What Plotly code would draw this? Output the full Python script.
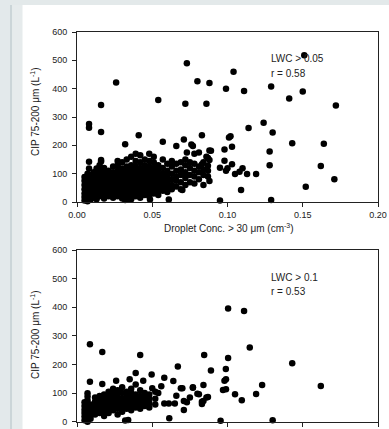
import plotly.graph_objects as go

W, H = 389, 429

# ---------------- Panel 1 (LWC > 0.05) ----------------
x1_out = [0.073, 0.151, 0.104, 0.026, 0.080, 0.088, 0.099, 0.111, 0.129, 0.150, 0.141, 0.054,
          0.016, 0.072, 0.086, 0.172, 0.008, 0.008, 0.016, 0.041, 0.083, 0.032, 0.057, 0.076,
          0.077, 0.066, 0.071, 0.101, 0.102, 0.114, 0.124, 0.130, 0.143, 0.164, 0.103, 0.098,
          0.088, 0.128, 0.128, 0.119, 0.162, 0.171, 0.152, 0.129, 0.095, 0.061, 0.109, 0.110,
          0.108, 0.113, 0.103, 0.105, 0.099, 0.100, 0.098, 0.095, 0.088, 0.087, 0.086, 0.083,
          0.088, 0.070, 0.032, 0.034, 0.0485, 0.089, 0.073]
y1_out = [490, 518, 460, 422, 426, 420, 400, 392, 408, 390, 365, 360,
          342, 347, 347, 341, 275, 262, 247, 236, 236, 204, 213, 203,
          198, 198, 221, 228, 232, 261, 280, 245, 207, 206, 195, 185,
          182, 178, 130, 99, 127, 80, 54, 7, 5, 9, 42, 119,
          107, 99, 133, 99, 110, 119, 146, 121, 148, 128, 160, 133,
          74, 42, 7, 9, 9, 181, 175]

x1_blob = ([0.005] * 7 + [0.007] * 8 + [0.008] * 2 + [0.009] * 7 + [0.011] * 7 + [0.013] * 8 +
           [0.015] * 8 + [0.016] * 2 + [0.018] * 8 + [0.021] * 7 + [0.024] * 8 + [0.027] * 9 +
           [0.030] * 9 + [0.033] * 9 + [0.036] * 10 + [0.039] * 10 + [0.042] * 10 + [0.045] * 9 +
           [0.048] * 10 + [0.051] * 9 + [0.054] * 8 + [0.057] * 7 + [0.060] * 7 + [0.063] * 6 +
           [0.066] * 5 + [0.069] * 5 + [0.072] * 5 + [0.075] * 4 + [0.078] * 5 + [0.081] * 4 +
           [0.084] * 4 + [0.087] * 3)
y1_blob = [5, 18, 30, 45, 60, 75, 88,
           3, 12, 25, 40, 55, 70, 85, 100,
           142, 118,
           8, 20, 35, 50, 65, 80, 95,
           15, 30, 45, 60, 75, 90, 105,
           10, 25, 40, 55, 70, 85, 100, 118,
           20, 35, 50, 65, 80, 95, 110, 130,
           143, 148,
           12, 28, 42, 58, 72, 88, 102, 120,
           20, 35, 50, 65, 80, 95, 110,
           15, 30, 45, 60, 75, 90, 105, 125,
           20, 35, 50, 65, 80, 95, 110, 130, 145,
           12, 28, 42, 58, 72, 88, 102, 118, 140,
           18, 35, 50, 65, 80, 95, 110, 125, 150,
           10, 25, 40, 55, 70, 85, 100, 115, 130, 160,
           20, 35, 50, 65, 80, 95, 110, 125, 145, 170,
           15, 30, 45, 60, 75, 90, 105, 120, 140, 165,
           25, 40, 55, 70, 85, 100, 115, 130, 150,
           20, 35, 50, 65, 80, 95, 110, 125, 145, 170,
           30, 45, 60, 75, 90, 105, 120, 140, 160,
           25, 40, 55, 70, 85, 100, 115, 130,
           40, 55, 70, 85, 100, 120, 150,
           35, 50, 65, 80, 95, 110, 135,
           45, 60, 80, 100, 125, 145,
           55, 75, 90, 110, 135,
           45, 70, 95, 115, 140,
           60, 85, 105, 130, 150,
           70, 95, 120, 140,
           65, 90, 110, 135, 170,
           80, 105, 125, 175,
           60, 95, 115, 140,
           90, 110, 155]

# ---------------- Panel 2 (LWC > 0.1) ----------------
x2_out = [0.1004, 0.111, 0.1148, 0.143, 0.162, 0.0845, 0.1004, 0.089, 0.0989, 0.098, 0.099,
          0.097, 0.099, 0.105, 0.1095, 0.119, 0.123, 0.130, 0.0954, 0.0613, 0.067, 0.084,
          0.080, 0.077, 0.070, 0.071, 0.087, 0.084, 0.058, 0.064, 0.0496, 0.042, 0.039,
          0.044, 0.0168, 0.0086, 0.0086, 0.0168, 0.026, 0.035, 0.032, 0.034, 0.050, 0.054,
          0.058, 0.061, 0.065, 0.071, 0.073, 0.075, 0.077, 0.081, 0.083, 0.083, 0.086,
          0.069, 0.066, 0.056]
y2_out = [396, 387, 259, 204, 125, 233, 223, 179, 184, 143, 148,
          111, 113, 96, 75, 97, 128, 5, 3, 12, 193, 128,
          98, 119, 117, 72, 86, 72, 154, 142, 165, 233, 170,
          143, 244, 271, 140, 132, 143, 148, 4, 6, 117, 100,
          64, 64, 64, 41, 68, 85, 120, 96, 70, 62, 85,
          117, 91, 124]

x2_blob = ([0.005] * 6 + [0.007] * 9 + [0.009] * 5 + [0.012] * 5 + [0.015] * 5 + [0.018] * 6 +
           [0.021] * 6 + [0.024] * 6 + [0.027] * 6 + [0.030] * 6 + [0.033] * 5 + [0.036] * 6 +
           [0.039] * 5 + [0.042] * 5 + [0.045] * 4 + [0.048] * 4 + [0.052] * 3)
y2_blob = [5, 18, 30, 42, 55, 68,
           0, 12, 25, 38, 50, 62, 75, 88, 99,
           10, 22, 35, 48, 60,
           25, 40, 55, 70, 85,
           30, 45, 60, 75, 90,
           20, 35, 50, 65, 80, 95,
           30, 45, 60, 75, 90, 105,
           40, 55, 70, 85, 100, 115,
           25, 45, 60, 75, 90, 110,
           35, 50, 65, 80, 100, 120,
           45, 60, 75, 90, 105,
           40, 55, 70, 85, 100, 115,
           50, 65, 80, 95, 130,
           45, 60, 75, 90, 110,
           55, 70, 85, 100,
           50, 65, 80, 95,
           60, 80, 105]

x_ticks = [0.0, 0.05, 0.10, 0.15, 0.20]
x_tick_labels = ["0.00", "0.05", "0.10", "0.15", "0.20"]
y_ticks = [0, 100, 200, 300, 400, 500, 600]

panel_labels = ["LWC > 0.05", "LWC > 0.1"]
r_labels = ["r = 0.58", "r = 0.53"]

x_title = "Droplet Conc. > 30 \u03bcm (cm<sup>-3</sup>)"
y_title = "CIP 75-200 \u03bcm (L<sup>-1</sup>)"

FONT = "Liberation Sans, Arial, sans-serif"

fig = go.Figure()
marker = dict(color="black", size=6.5, line=dict(width=0))
fig.add_trace(go.Scatter(x=x1_blob + x1_out, y=y1_blob + y1_out, mode="markers",
                         marker=marker, xaxis="x", yaxis="y", cliponaxis=False,
                         showlegend=False, hoverinfo="skip"))
fig.add_trace(go.Scatter(x=x2_blob + x2_out, y=y2_blob + y2_out, mode="markers",
                         marker=marker, xaxis="x2", yaxis="y2", cliponaxis=False,
                         showlegend=False, hoverinfo="skip"))

def px(v):
    return v / W

def py(v):
    return 1 - v / H

xdom = [px(77), px(378)]
ydom1 = [py(202), py(32)]
ydom2 = [py(421.7), py(250)]

axis_common = dict(showline=True, linecolor="#222", linewidth=1, mirror=True,
                   ticks="outside", ticklen=4, tickwidth=1, tickcolor="#222",
                   showgrid=False, zeroline=False, automargin=False,
                   tickfont=dict(family=FONT, size=9, color="#222"))

fig.update_layout(
    template="none",
    width=W, height=H,
    margin=dict(l=0, r=0, t=0, b=0, pad=0, autoexpand=False),
    paper_bgcolor="white", plot_bgcolor="white",
    font=dict(family=FONT, color="#222"),
    xaxis=dict(domain=xdom, range=[0, 0.2], tickvals=x_ticks, ticktext=x_tick_labels,
               anchor="y", **axis_common),
    yaxis=dict(domain=ydom1, range=[0, 600], tickvals=y_ticks, anchor="x",
               ticklabelstandoff=3, **axis_common),
    xaxis2=dict(domain=xdom, range=[0, 0.2], tickvals=x_ticks, ticktext=x_tick_labels,
                anchor="y2", ticklabelstandoff=4, **axis_common),
    yaxis2=dict(domain=ydom2, range=[0, 600], tickvals=y_ticks, anchor="x2",
                ticklabelstandoff=3, **axis_common),
)

shapes = [
    dict(type="rect", xref="paper", yref="paper", x0=0, x1=1, y0=py(5), y1=1,
         fillcolor="#e3e9ea", line=dict(width=0), layer="below"),
    dict(type="rect", xref="paper", yref="paper", x0=0, x1=px(10), y0=0, y1=1,
         fillcolor="#e3e9eb", line=dict(width=0), layer="below"),
    dict(type="rect", xref="paper", yref="paper", x0=px(10), x1=px(12.5), y0=0, y1=py(5),
         fillcolor="#cbd5d8", line=dict(width=0), layer="below"),
    dict(type="rect", xref="paper", yref="paper", x0=px(12.5), x1=px(22.5), y0=0, y1=py(5),
         fillcolor="#e6ebec", line=dict(width=0), layer="below"),
]
fig.update_layout(shapes=shapes)

ann = []
for xa, ya, lab, rl in [("x", "y", panel_labels[0], r_labels[0]),
                        ("x2", "y2", panel_labels[1], r_labels[1])]:
    ann.append(dict(x=0.1276, y=505, xref=xa, yref=ya, text=lab, showarrow=False,
                    xanchor="left", yanchor="middle", font=dict(family=FONT, size=10, color="#222")))
    ann.append(dict(x=0.1276, y=455, xref=xa, yref=ya, text=rl, showarrow=False,
                    xanchor="left", yanchor="middle", font=dict(family=FONT, size=10, color="#222")))
ann.append(dict(x=px(35), y=py(112), xref="paper", yref="paper", text=y_title, textangle=-90,
                showarrow=False, xanchor="center", yanchor="middle",
                font=dict(family=FONT, size=10, color="#222")))
ann.append(dict(x=px(35), y=py(335), xref="paper", yref="paper", text=y_title, textangle=-90,
                showarrow=False, xanchor="center", yanchor="middle",
                font=dict(family=FONT, size=10, color="#222")))
ann.append(dict(x=px(229), y=py(228), xref="paper", yref="paper", text=x_title,
                showarrow=False, xanchor="center", yanchor="middle",
                font=dict(family=FONT, size=10, color="#222")))
fig.update_layout(annotations=ann)

clip_js = (
    "document.documentElement.style.overflow='hidden';"
    "document.body.style.margin='0';"
    "document.body.style.overflow='hidden';"
    "var gd=document.querySelector('.plotly-graph-div');"
    "gd.style.overflow='hidden';"
    "gd.parentElement.style.overflow='hidden';"
    "gd.parentElement.style.height='429px';"
    "var sc=gd.querySelector('.svg-container');if(sc){sc.style.overflow='hidden';}"
)
fig.write_html("out.html", config={"displayModeBar": False}, post_script=clip_js)
